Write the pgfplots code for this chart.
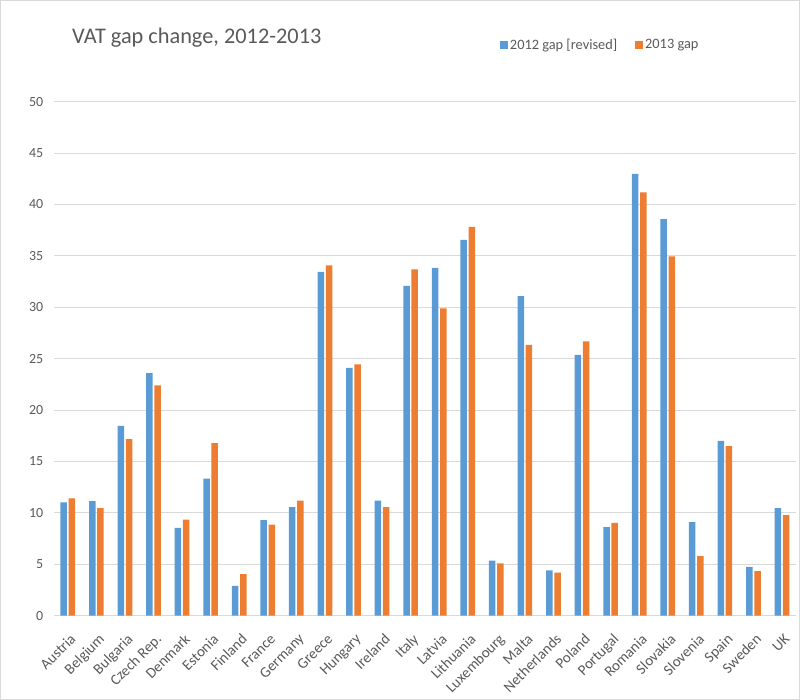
\documentclass[border=0pt]{standalone}
\usepackage{pgfplots}
\pgfplotsset{compat=1.18}
\usepackage{fontspec}
\setmainfont{Carlito}
\definecolor{xlblue}{HTML}{5B9BD5}
\definecolor{xlorange}{HTML}{ED7D31}
\definecolor{xlgray}{HTML}{595959}
\definecolor{xlgrid}{HTML}{D9D9D9}
\pgfplotstableread{
idx y2012 y2013
0 11.03 11.41
1 11.15 10.47
2 18.47 17.18
3 23.60 22.40
4 8.53 9.34
5 13.33 16.79
6 2.89 4.05
7 9.30 8.85
8 10.56 11.18
9 33.45 34.06
10 24.10 24.44
11 11.18 10.56
12 32.09 33.68
13 33.82 29.90
14 36.55 37.81
15 5.35 5.08
16 31.09 26.35
17 4.42 4.18
18 25.37 26.69
19 8.61 9.02
20 42.96 41.16
21 38.56 34.94
22 9.09 5.79
23 17.01 16.50
24 4.76 4.33
25 10.46 9.78
}\vatdata
\begin{document}
\begin{tikzpicture}
\useasboundingbox (0bp,0bp) rectangle (800bp,700bp);
\draw[xlgrid, line width=1bp] (0.5bp,0.5bp) rectangle (799.5bp,699.5bp);
\node[text=xlgray, font=\fontsize{22.4}{26}\selectfont, anchor=west, inner sep=0pt] at (72bp,662bp) {VAT gap change, 2012-2013};
\begin{axis}[
  at={(53.5bp,84.3bp)}, anchor=south west,
  width=742.8bp, height=514.1bp, scale only axis,
  xmin=-0.5, xmax=25.5, ymin=0, ymax=50,
  ytick={0,5,...,50},
  xtick={0,...,25},
  xticklabels={Austria,Belgium,Bulgaria,Czech Rep.,Denmark,Estonia,Finland,France,Germany,Greece,Hungary,Ireland,Italy,Latvia,Lithuania,Luxembourg,Malta,Netherlands,Poland,Portugal,Romania,Slovakia,Slovenia,Spain,Sweden,UK},
  axis line style={draw=none},
  major tick length=0pt,
  ymajorgrids, grid style={xlgrid, line width=1bp},
  ybar, bar width=6.5bp,
  /pgf/number format/assume math mode=true,
  tick label style={font=\fontsize{14}{16}\selectfont, text=xlgray},
  yticklabel style={anchor=east, inner sep=0pt, xshift=-10bp},
  xticklabel style={font=\fontsize{15}{17}\selectfont, anchor=north east, inner sep=0pt, xshift=1.5bp, yshift=-17bp, rotate=45},
  legend style={at={(axis description cs:0.736,1.110)}, anchor=center, draw=none, fill=none,
    font=\fontsize{14.4}{16}\selectfont, text=xlgray, legend columns=2,
    /tikz/every even column/.append style={column sep=16bp}},
  legend image code/.code={\fill[#1] (0bp,-4bp) rectangle (8bp,4bp);},
]
\addplot[fill=xlblue, draw=none, bar shift=-4.1bp] table[x=idx, y=y2012] {\vatdata};
\addplot[fill=xlorange, draw=none, bar shift=4.1bp] table[x=idx, y=y2013] {\vatdata};
\legend{2012 gap [revised], 2013 gap}
\end{axis}
\end{tikzpicture}
\end{document}
